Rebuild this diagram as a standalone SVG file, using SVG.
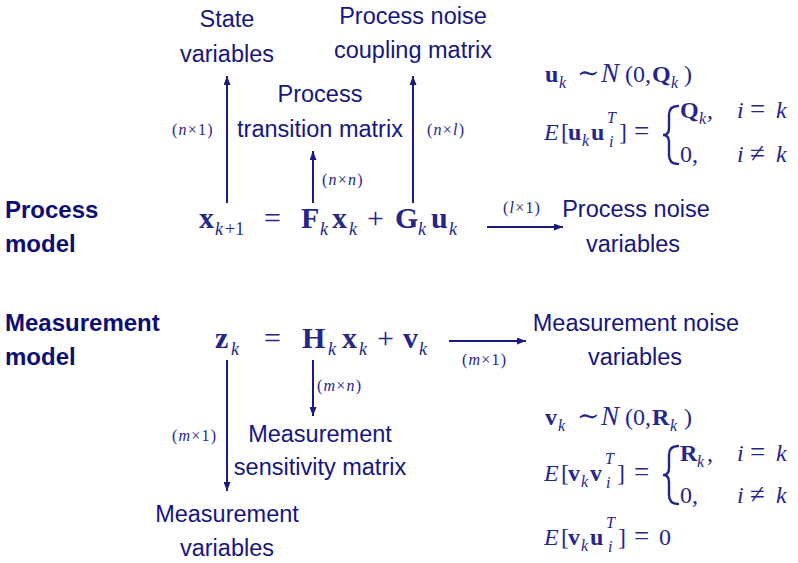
<svg xmlns="http://www.w3.org/2000/svg" width="798" height="563" viewBox="0 0 798 563">
<style>
.lbl{font-family:"Liberation Sans",Arial,sans-serif;font-size:23.5px;fill:#16167f;text-anchor:middle}
.hd{font-family:"Liberation Sans",Arial,sans-serif;font-size:24px;font-weight:bold;fill:#0d0d78}
.m{font-family:"Liberation Serif","DejaVu Serif",serif;fill:#26268a}
.mb{font-size:30px;font-weight:bold}
.mr{font-size:30px}
.sub{font-size:18px;font-style:italic}
.sm{font-size:16px;letter-spacing:1.2px}
.r{font-size:24px}
.rb{font-size:24px;font-weight:bold}
.ri{font-size:24px;font-style:italic}
.rs{font-size:16px;font-style:italic}
.big{font-size:27px}
.it{font-style:italic}
.con line{stroke:#1a1a80;stroke-width:2}
.brace{fill:none;stroke:#26268a;stroke-width:2.4;stroke-linecap:round}
</style>
<defs>
<marker id="ah" markerUnits="userSpaceOnUse" markerWidth="9" markerHeight="7" refX="9" refY="3.5" orient="auto">
<path d="M0,0 L9,3.5 L0,7 z" fill="#1a1a80"/>
</marker>
</defs>

<g id="connectors" class="con">
<line x1="227" y1="203" x2="227" y2="76" marker-end="url(#ah)"/>
<line x1="313" y1="203" x2="313" y2="151" marker-end="url(#ah)"/>
<line x1="413" y1="203" x2="413" y2="76" marker-end="url(#ah)"/>
<line x1="487" y1="227" x2="563" y2="227" marker-end="url(#ah)"/>
<line x1="449" y1="341" x2="526" y2="341" marker-end="url(#ah)"/>
<line x1="227" y1="360" x2="227" y2="491" marker-end="url(#ah)"/>
<line x1="313" y1="360" x2="313" y2="416" marker-end="url(#ah)"/>
</g>

<g id="dims">
<text class="m sm" x="172" y="135">(<tspan class="it">n</tspan>×1)</text>
<text class="m sm" x="427" y="135">(<tspan class="it">n</tspan>×<tspan class="it">l</tspan>)</text>
<text class="m sm" x="322" y="185">(<tspan class="it">n</tspan>×<tspan class="it">n</tspan>)</text>
<text class="m sm" x="503" y="213">(<tspan class="it">l</tspan>×1)</text>
<text class="m sm" x="462" y="365">(<tspan class="it">m</tspan>×1)</text>
<text class="m sm" x="317" y="391">(<tspan class="it">m</tspan>×<tspan class="it">n</tspan>)</text>
<text class="m sm" x="172" y="441">(<tspan class="it">m</tspan>×1)</text>
</g>

<g id="state-variables"><text class="lbl" x="227" y="27">State</text><text class="lbl" x="227" y="62">variables</text></g>
<g id="process-noise-coupling"><text class="lbl" x="413" y="24">Process noise</text><text class="lbl" x="413" y="58">coupling matrix</text></g>
<g id="process-transition"><text class="lbl" x="320" y="102">Process</text><text class="lbl" x="320" y="137">transition matrix</text></g>
<g id="process-noise-variables"><text class="lbl" x="636" y="217">Process noise</text><text class="lbl" x="633" y="252">variables</text></g>
<g id="measurement-noise-variables"><text class="lbl" x="636" y="331">Measurement noise</text><text class="lbl" x="635" y="365">variables</text></g>
<g id="measurement-sensitivity"><text class="lbl" x="320" y="442">Measurement</text><text class="lbl" x="320" y="475">sensitivity matrix</text></g>
<g id="measurement-variables"><text class="lbl" x="227" y="522">Measurement</text><text class="lbl" x="227" y="556">variables</text></g>

<g id="process-model-title"><text class="hd" x="5" y="218">Process</text><text class="hd" x="5" y="252">model</text></g>
<g id="measurement-model-title"><text class="hd" x="5" y="331">Measurement</text><text class="hd" x="5" y="365">model</text></g>

<g id="process-equation">
<text class="m mb" x="199" y="228">x</text>
<text class="m sub" x="215" y="235">k</text><text class="m" style="font-size:18px" x="225" y="235">+1</text>
<text class="m mr" x="264" y="228">=</text>
<text class="m mb" x="301" y="228">F</text><text class="m sub" x="320" y="235">k</text>
<text class="m mb" x="332" y="228">x</text><text class="m sub" x="349" y="235">k</text>
<text class="m mr" x="367" y="228">+</text>
<text class="m mb" x="395" y="228">G</text><text class="m sub" x="418" y="235">k</text>
<text class="m mb" x="431" y="228">u</text><text class="m sub" x="449" y="235">k</text>
</g>

<g id="measurement-equation">
<text class="m mb" x="215" y="348">z</text><text class="m sub" x="231" y="355">k</text>
<text class="m mr" x="264" y="348">=</text>
<text class="m mb" x="302" y="348">H</text><text class="m sub" x="328" y="355">k</text>
<text class="m mb" x="342" y="348">x</text><text class="m sub" x="359" y="355">k</text>
<text class="m mr" x="377" y="348">+</text>
<text class="m mb" x="403" y="348">v</text><text class="m sub" x="419" y="355">k</text>
</g>

<g id="process-noise-stats">
<text class="m rb" x="545" y="82">u</text><text class="m rs" x="559" y="88">k</text>
<text class="m big" x="577" y="82">∼</text>
<text class="m ri big" x="601" y="82">N</text>
<text class="m r" x="625" y="82">(0,</text>
<text class="m rb" x="652" y="82">Q</text><text class="m rs" x="671" y="88">k</text>
<text class="m r" x="684" y="82">)</text>

<text class="m ri" x="544" y="140">E</text>
<text class="m r" x="561" y="140">[</text>
<text class="m rb" x="568" y="140">u</text><text class="m rs" x="582" y="146">k</text>
<text class="m rb" x="591" y="140">u</text><text class="m rs" x="607" y="123">T</text><text class="m rs" x="609" y="147">i</text>
<text class="m r" x="619" y="140">]</text>
<text class="m big" x="634" y="140">=</text>
<path class="brace" d="M678,106 Q669,106 669,115 L669,128 Q669,135 663,135 Q669,135 669,142 L669,155 Q669,164 678,164"/>
<text class="m rb" x="680" y="118">Q</text><text class="m rs" x="699" y="124">k</text><text class="m r" x="707" y="118">,</text>
<text class="m ri" x="737" y="118">i</text><text class="m big" x="750" y="118">=</text><text class="m ri" x="776" y="118">k</text>
<text class="m r" x="680" y="162">0,</text>
<text class="m ri" x="737" y="162">i</text><text class="m big" x="750" y="162">≠</text><text class="m ri" x="776" y="162">k</text>
</g>

<g id="measurement-noise-stats">
<text class="m rb" x="545" y="425">v</text><text class="m rs" x="558" y="431">k</text>
<text class="m big" x="577" y="425">∼</text>
<text class="m ri big" x="601" y="425">N</text>
<text class="m r" x="625" y="425">(0,</text>
<text class="m rb" x="652" y="425">R</text><text class="m rs" x="670" y="431">k</text>
<text class="m r" x="684" y="425">)</text>

<text class="m ri" x="544" y="481">E</text>
<text class="m r" x="561" y="481">[</text>
<text class="m rb" x="568" y="481">v</text><text class="m rs" x="581" y="487">k</text>
<text class="m rb" x="590" y="481">v</text><text class="m rs" x="605" y="464">T</text><text class="m rs" x="606" y="488">i</text>
<text class="m r" x="617" y="481">]</text>
<text class="m big" x="634" y="481">=</text>
<path class="brace" d="M678,446 Q669,446 669,455 L669,468 Q669,475 663,475 Q669,475 669,482 L669,495 Q669,504 678,504"/>
<text class="m rb" x="680" y="461">R</text><text class="m rs" x="697" y="467">k</text><text class="m r" x="707" y="461">,</text>
<text class="m ri" x="737" y="461">i</text><text class="m big" x="750" y="461">=</text><text class="m ri" x="776" y="461">k</text>
<text class="m r" x="680" y="503">0,</text>
<text class="m ri" x="737" y="503">i</text><text class="m big" x="750" y="503">≠</text><text class="m ri" x="776" y="503">k</text>

<text class="m ri" x="544" y="545">E</text>
<text class="m r" x="561" y="545">[</text>
<text class="m rb" x="568" y="545">v</text><text class="m rs" x="581" y="551">k</text>
<text class="m rb" x="590" y="545">u</text><text class="m rs" x="606" y="528">T</text><text class="m rs" x="608" y="552">i</text>
<text class="m r" x="618" y="545">]</text>
<text class="m big" x="634" y="545">=</text>
<text class="m r" x="659" y="545">0</text>
</g>
</svg>
